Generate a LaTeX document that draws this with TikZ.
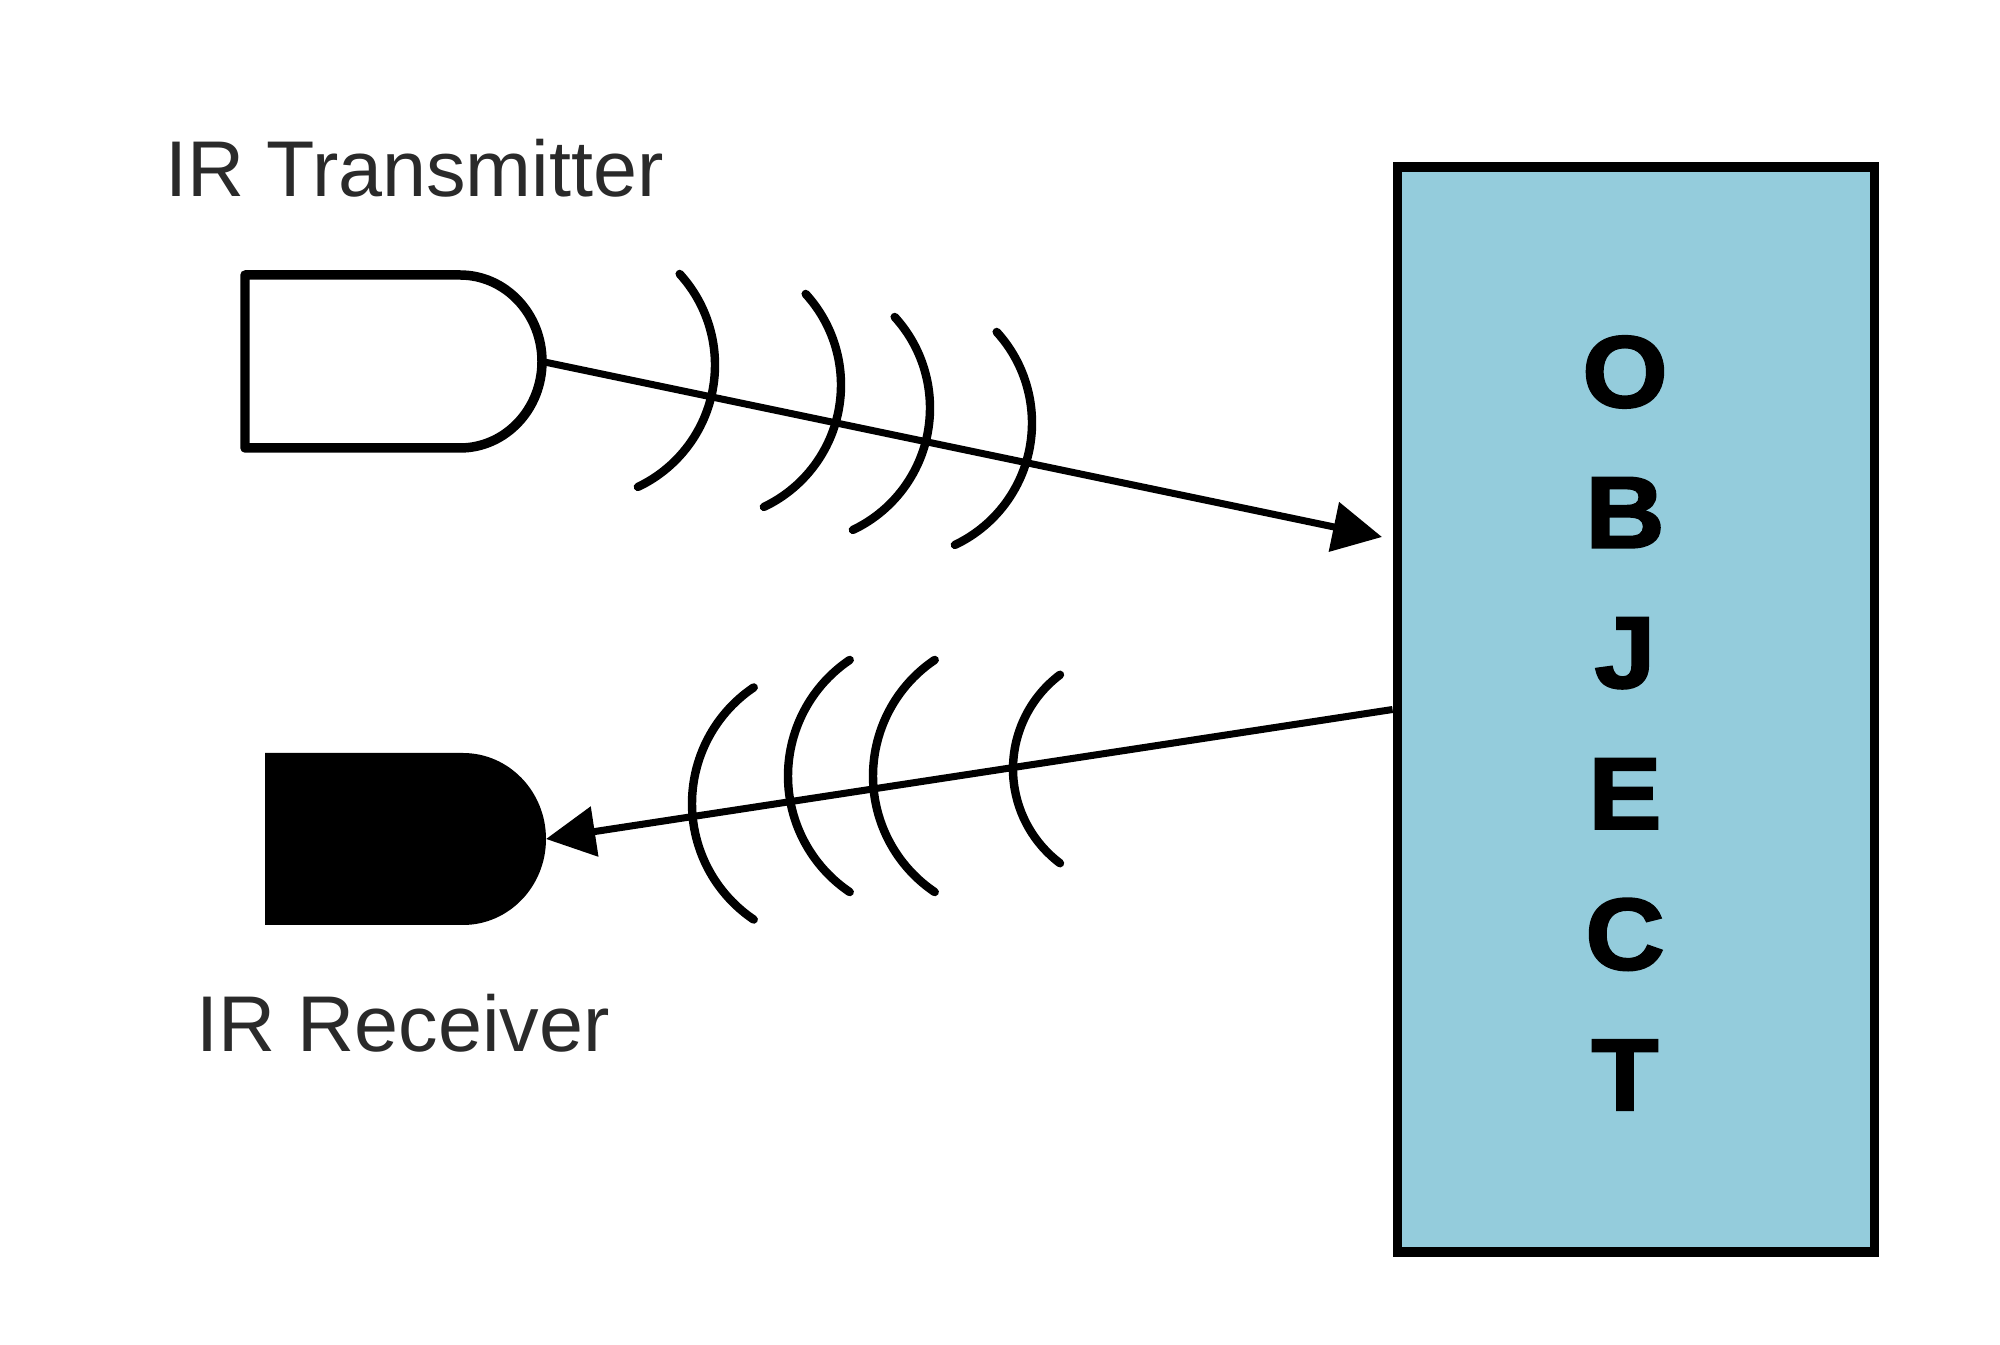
\documentclass[tikz,border=0pt]{standalone}
\usepackage{fontspec}
\setmainfont{Liberation Sans}
\newfontfamily\heavyfont{Liberation Sans Bold}[FakeBold=2,FakeStretch=1.08]
\usetikzlibrary{arrows.meta,calc}
\definecolor{objfill}{HTML}{94CCDC}
\definecolor{labelgray}{HTML}{2A2A2A}

\begin{document}
\begin{tikzpicture}[
  sensor/.style={black,line width=2.7pt,line join=round},
  wave/.style={black,line width=2.4pt,line cap=round},
  beam/.style={black,line width=2pt,-{Triangle[length=14pt,width=14pt]}},
  tag/.style={labelgray,font=\fontsize{22.5}{27}\selectfont,inner sep=0pt,anchor=base west},
  letter/.style={font=\fontsize{29}{34}\selectfont\heavyfont,inner sep=0pt},
  objbox/.style={draw=black,line width=2.8pt,fill=objfill,minimum width=4.77cm,minimum height=10.85cm}
]
  \useasboundingbox (0,0) rectangle (20,13.45);

  % Object — tall shaded box, letters stacked
  \node[objbox] (obj) at (16.36,6.355) {};
  \foreach \l [count=\i] in {O,B,J,E,C,T} {
    \node[letter] (l\i) at (16.25,{9.73-1.406*(\i-1)}) {\l};
  }

  % Transmitter — open D shape
  \draw[sensor] (4.60,10.70) -- (2.45,10.70) -- (2.45,8.97) -- (4.60,8.97)
    arc[start angle=-90,end angle=90,x radius=0.82,y radius=0.865] -- cycle;
  \coordinate (tx) at (5.42,9.835);
  \node[tag] (txlabel) at (1.65,11.48) {IR Transmitter};

  % Receiver — filled D shape
  \fill[black] (4.63,5.92) -- (2.65,5.92) -- (2.65,4.20) -- (4.63,4.20)
    arc[start angle=-90,end angle=90,x radius=0.83,y radius=0.86] -- cycle;
  \coordinate (rx) at (5.46,5.06);
  \node[tag] (rxlabel) at (1.96,2.93) {IR Receiver};

  % Outgoing beam and wave fronts
  \coordinate (hit) at (13.82,8.08);
  \draw[beam] (tx) -- (hit);
  \foreach \cx/\cy in {5.80/9.80,7.06/9.60,7.95/9.37,8.97/9.22} {
    \draw[wave] ($(\cx,\cy)+(-64.6:1.35)$) arc[start angle=-64.6,end angle=42.4,radius=1.35];
  }

  % Reflected beam back to the receiver
  \draw[beam] (obj.west) -- (rx);
  \foreach \cx/\cy/\r/\h in {8.32/5.415/1.4/56,9.28/5.69/1.4/56,10.13/5.69/1.4/56,11.31/5.76/1.18/53} {
    \draw[wave] ($(\cx,\cy)+({180-\h}:\r)$) arc[start angle={180-\h},end angle={180+\h},radius=\r];
  }
\end{tikzpicture}
\end{document}
